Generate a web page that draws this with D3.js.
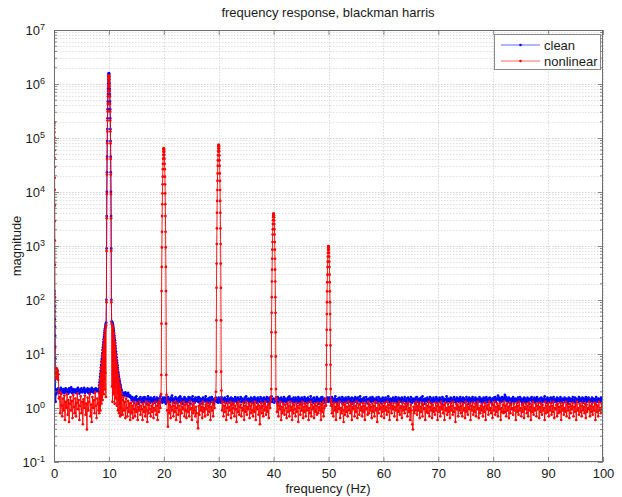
<!DOCTYPE html>
<html><head><meta charset="utf-8">
<script src="https://cdn.jsdelivr.net/npm/d3@7/dist/d3.min.js"></script>
<style>
body{margin:0;background:#fff}
text{font-family:"Liberation Sans",Arial,Helvetica,sans-serif}
</style>
</head><body>
<svg id="chart" width="622" height="497"></svg>
<script>
// ---------------- data ----------------
const titleText = "frequency response, blackman harris";
const xLabelText = "frequency (Hz)";
const yLabelText = "magnitude";
const seriesNames = ["clean", "nonlinear"];
const xTickValues = [0, 10, 20, 30, 40, 50, 60, 70, 80, 90, 100];
const yTickExponents = [-1, 0, 1, 2, 3, 4, 5, 6, 7];

// noise floor: one row per 2 Hz, sampled every 0.125 Hz (null = covered by a peak / detail segment)
const noiseStep = 0.125, noiseRowSpan = 2;
const cleanNoiseRows = [
  [null,null,null,1.8,2.2,1.95,2.3,1.9,2.15,2.05,2.35,1.85,2.2,2.0,2.25,1.9],
  [2.1,2.3,1.95,2.2,2.05,1.85,2.3,2.0,2.15,2.4,1.9,2.1,2.25,1.95,2.2,2.05],
  [1.9,2.25,2.0,2.35,2.1,1.85,2.2,2.0,2.3,1.95,2.15,2.05,2.35,1.9,2.2,2.1],
  [2.0,2.3,1.9,2.15,2.25,1.95,2.1,2.35,2.0,2.2,1.9,2.25,2.05,2.3,2.1,2.2],
  [2.05,2.15,null,null,null,null,null,null,null,null,null,null,null,null,null,null],
  [null,null,null,null,null,null,null,null,null,null,null,null,null,null,null,null],
  [null,null,null,1.95,1.75,1.9,1.7,1.85,1.95,1.7,1.8,1.65,1.9,1.75,1.6,1.7],
  [1.55,1.4,1.6,1.35,1.5,1.25,1.55,1.4,1.65,1.3,1.45,1.2,1.5,1.35,1.6,1.3],
  [1.45,1.25,1.55,1.35,1.6,1.3,1.5,1.2,1.45,1.65,1.3,1.5,1.25,1.55,1.4,1.3],
  [1.5,1.35,1.6,1.25,1.45,1.3,1.55,1.4,1.2,1.5,1.35,1.65,1.3,1.45,1.25,1.55],
  [1.4,1.3,1.55,1.2,1.5,1.35,1.6,1.25,1.45,1.3,1.55,1.4,1.7,1.35,1.5,1.25],
  [1.45,1.6,1.3,1.5,1.25,1.4,1.55,1.3,1.65,1.35,1.5,1.2,1.45,1.35,1.6,1.3],
  [1.5,1.25,1.45,1.35,1.6,1.3,1.55,1.2,1.5,1.4,1.65,1.3,1.45,1.25,1.55,1.35],
  [1.4,1.55,1.3,1.6,1.25,1.5,1.35,1.45,1.2,1.55,1.3,1.5,1.4,1.65,1.3,1.45],
  [1.35,1.5,1.25,1.55,1.4,1.3,1.6,1.35,1.45,1.2,1.5,1.35,1.55,1.3,1.45,1.25],
  [1.55,1.3,1.45,1.25,1.6,1.35,1.5,1.4,1.3,1.55,1.25,1.45,1.35,1.65,1.3,1.5],
  [1.4,1.25,1.55,1.35,1.5,1.2,1.45,1.3,1.6,1.35,1.5,1.25,1.55,1.4,1.3,1.45],
  [1.6,1.3,1.5,1.35,1.45,1.25,1.55,1.3,1.65,1.4,1.35,1.5,1.2,1.45,1.3,1.55],
  [1.35,1.5,1.25,1.45,1.6,1.3,1.5,1.4,1.25,1.55,1.35,1.45,1.3,1.6,1.25,1.5],
  [1.4,1.3,1.55,1.2,1.45,1.35,1.6,1.3,1.5,1.25,1.55,1.4,1.35,1.65,1.3,1.45],
  [1.5,1.25,1.45,1.35,1.55,1.3,1.6,1.2,1.5,1.4,1.3,1.55,1.35,1.45,1.25,1.6],
  [1.35,1.5,1.3,1.45,1.2,1.55,1.4,1.65,1.3,1.5,1.35,1.45,1.25,1.55,1.3,1.4],
  [1.55,1.3,1.45,1.25,1.6,1.35,1.5,1.3,1.4,1.55,1.2,1.45,1.35,1.6,1.3,1.5],
  [1.4,1.25,1.55,1.35,1.45,1.3,1.65,1.4,1.3,1.5,1.25,1.55,1.35,1.45,1.3,1.6],
  [1.35,1.5,1.2,1.45,1.35,1.55,1.3,1.6,1.4,1.25,1.5,1.35,1.45,1.3,1.55,1.4],
  [1.3,1.55,1.35,1.45,1.25,1.6,1.4,1.3,1.5,1.35,1.65,1.3,1.45,1.2,1.5,1.35],
  [1.55,1.3,1.45,1.35,1.6,1.25,1.5,1.4,1.3,1.55,1.35,1.45,1.25,1.6,1.3,1.5],
  [1.4,1.3,1.55,1.2,1.5,1.35,1.45,1.6,1.3,1.5,1.25,1.55,1.4,1.35,1.65,1.3],
  [1.45,1.3,1.5,1.25,1.55,1.4,1.35,1.6,1.3,1.45,1.2,1.5,1.35,1.55,1.3,1.45],
  [1.6,1.35,1.5,1.3,1.45,1.25,1.55,1.4,1.3,1.6,1.35,1.5,1.25,1.45,1.35,1.55],
  [1.3,1.45,1.25,1.55,1.35,1.5,1.3,1.65,1.4,1.3,1.5,1.2,1.45,1.35,1.55,1.3],
  [1.5,1.35,1.6,1.3,1.45,1.25,1.55,1.35,1.5,1.4,1.3,1.55,1.25,1.45,1.35,1.6],
  [1.4,1.3,1.5,1.2,1.55,1.35,1.45,1.3,1.6,1.4,1.25,1.5,1.35,1.45,1.3,1.55],
  [1.35,1.6,1.3,1.45,1.25,1.5,1.4,1.55,1.3,1.65,1.35,1.45,1.2,1.5,1.35,1.4],
  [1.55,1.3,1.45,1.35,1.6,1.25,1.5,1.4,1.3,1.55,1.35,1.45,1.3,1.6,1.25,1.5],
  [1.4,1.35,1.55,1.3,1.45,1.2,1.6,1.35,1.5,1.3,1.45,1.4,1.65,1.3,1.5,1.35],
  [1.45,1.3,1.55,1.25,1.5,1.4,1.35,1.6,1.3,1.45,1.25,1.55,1.35,1.5,1.3,1.45],
  [1.6,1.35,1.45,1.3,1.55,1.25,1.5,1.4,1.3,1.6,1.35,1.45,1.2,1.55,1.4,1.3],
  [1.5,1.35,1.6,1.3,1.45,1.4,1.55,1.25,1.5,1.35,1.45,1.3,1.6,1.35,1.5,1.25],
  [1.45,1.3,1.55,1.35,1.5,1.25,1.6,1.4,1.3,1.5,1.35,1.55,1.3,1.45,1.25,1.5],
  [1.4,1.55,1.35,1.6,1.3,1.5,1.45,1.7,1.4,1.55,1.35,1.5,1.3,1.6,1.35,1.45],
  [1.55,1.75,1.4,1.6,1.35,1.5,1.3,1.55,1.4,1.45,1.25,1.5,1.35,1.6,1.3,1.45],
  [1.5,1.35,1.45,1.25,1.55,1.4,1.3,1.6,1.35,1.5,1.25,1.45,1.35,1.55,1.3,1.5],
  [1.4,1.3,1.55,1.35,1.45,1.2,1.5,1.4,1.6,1.3,1.45,1.35,1.55,1.25,1.5,1.35],
  [1.6,1.3,1.45,1.35,1.5,1.25,1.55,1.4,1.3,1.5,1.35,1.65,1.3,1.45,1.25,1.55],
  [1.35,1.5,1.3,1.45,1.55,1.25,1.5,1.35,1.6,1.3,1.45,1.4,1.3,1.55,1.35,1.5],
  [1.45,1.3,1.6,1.35,1.5,1.25,1.45,1.4,1.55,1.3,1.5,1.35,1.45,1.2,1.55,1.35],
  [1.5,1.35,1.45,1.3,1.6,1.4,1.3,1.55,1.25,1.5,1.35,1.45,1.3,1.6,1.35,1.5],
  [1.4,1.3,1.55,1.25,1.5,1.35,1.45,1.6,1.3,1.5,1.35,1.55,1.4,1.3,1.45,1.35],
  [1.55,1.3,1.5,1.35,1.45,1.25,1.6,1.4,1.3,1.5,1.35,1.45,1.3,1.55,1.35,1.5],
  [1.4]
];
const nonlinearNoiseRows = [
  [null,null,null,null,null,null,null,null,1.6,0.8,1.9,1.1,0.7,1.5,0.9,1.7],
  [0.6,1.3,1.0,1.8,0.75,1.4,0.55,1.2,1.6,0.9,1.35,0.65,1.75,1.05,0.8,1.5],
  [0.7,1.25,1.85,0.95,1.4,0.6,1.1,1.65,0.8,1.3,0.5,1.45,1.0,1.7,0.75,1.2],
  [0.4,1.55,0.9,1.3,1.8,0.7,1.15,0.55,1.6,1.0,1.4,0.8,1.95,1.1,0.65,1.5],
  [1.2,0.9,null,null,null,null,null,null,null,null,null,null,null,null,null,null],
  [null,null,null,null,null,null,null,null,null,null,null,null,null,null,null,null],
  [null,null,null,1.4,0.75,1.6,0.9,1.3,0.65,1.5,1.0,0.7,1.35,0.85,1.2,0.6],
  [1.25,0.8,1.1,0.65,1.3,0.95,0.7,1.15,0.85,1.25,0.6,1.05,0.9,1.3,0.75,1.1],
  [0.95,0.6,1.2,0.85,1.05,0.7,1.3,0.9,0.55,1.15,0.8,1.25,0.95,0.7,1.1,0.85],
  [1.2,0.65,1.0,0.9,1.3,0.75,1.1,0.6,1.25,0.85,1.4,1.0,1.8,null,null,null],
  [null,null,null,null,1.75,0.9,0.45,1.3,0.8,1.15,0.65,1.05,0.9,1.25,0.7,1.1],
  [0.85,1.3,0.6,1.0,1.2,0.75,1.1,0.9,0.55,1.25,0.8,1.05,0.95,1.3,0.7,1.15],
  [0.9,0.65,1.2,0.85,1.1,0.7,1.3,0.95,1.0,0.6,1.15,0.8,1.25,0.9,0.7,1.05],
  [0.8,0.55,0.42,1.1,0.75,1.2,0.9,1.05,0.65,1.3,0.85,1.0,0.7,1.15,0.95,1.25],
  [0.75,1.1,0.85,1.2,0.6,1.05,0.9,1.3,0.7,1.15,1.0,1.5,2.0,null,null,null],
  [null,null,null,null,2.1,0.9,1.3,0.7,1.1,0.85,1.25,0.6,1.0,1.2,0.75,1.05],
  [0.9,1.3,0.65,1.15,0.8,1.0,1.25,0.7,1.1,0.95,0.55,1.2,0.85,1.3,0.75,1.05],
  [1.15,0.7,1.0,0.9,1.25,0.6,1.1,0.85,1.3,0.75,1.05,0.95,1.2,0.65,1.1,0.8],
  [1.25,0.9,0.7,1.15,0.85,1.3,0.6,1.05,0.95,1.2,0.75,1.1,0.5,1.0,1.25,0.8],
  [1.1,0.7,1.2,0.9,1.3,0.75,1.05,0.85,1.15,0.65,1.25,1.0,1.6,null,null,null],
  [null,null,null,null,1.55,0.85,1.2,0.7,1.1,0.95,1.3,0.6,1.05,0.8,1.2,0.9],
  [0.75,1.15,1.0,0.65,1.25,0.85,1.1,0.7,1.3,0.9,1.05,0.6,1.2,0.8,1.15,0.95],
  [0.7,1.25,0.85,1.1,0.55,1.0,1.2,0.75,1.15,0.9,1.3,0.65,1.05,0.85,1.2,0.7],
  [1.1,0.9,1.25,0.6,1.0,0.8,1.3,0.7,1.15,0.95,1.05,0.65,1.2,0.85,1.1,0.75],
  [1.25,0.8,1.05,0.9,1.2,0.6,1.15,0.85,1.3,0.7,1.0,1.1,1.45,null,null,null],
  [null,null,null,null,1.4,0.8,1.15,0.7,1.25,0.9,1.05,0.6,1.2,0.85,1.1,0.95],
  [1.3,0.65,1.0,0.8,1.2,0.9,0.55,1.15,0.75,1.25,0.85,1.05,0.7,1.3,0.9,1.1],
  [0.8,1.2,0.6,1.05,0.95,1.25,0.7,1.1,0.85,1.3,0.65,1.0,1.15,0.75,1.2,0.9],
  [1.05,0.7,1.25,0.85,1.1,0.6,1.2,0.95,1.0,0.75,1.3,0.8,1.15,0.9,1.05,0.65],
  [1.2,0.85,1.1,0.7,1.3,0.9,1.0,0.55,1.25,0.8,1.15,0.95,1.05,0.7,1.2,0.85],
  [1.1,0.65,1.25,0.9,1.05,0.75,1.3,0.85,1.15,0.6,1.0,1.2,0.8,1.1,0.95,1.25],
  [0.7,1.05,0.9,1.2,0.6,1.15,0.85,1.3,0.75,1.0,1.1,0.65,1.25,0.9,1.05,0.8],
  [1.2,0.95,1.1,0.7,1.25,0.85,1.0,0.6,1.15,0.9,0.5,0.4,1.05,0.8,1.2,0.9],
  [1.3,0.75,1.1,0.9,1.2,0.65,1.05,0.85,1.25,0.7,1.15,0.95,1.0,0.6,1.2,0.85],
  [1.1,0.8,1.3,0.7,1.05,0.9,1.2,0.65,1.15,0.85,1.0,0.75,1.25,0.9,1.1,0.6],
  [1.2,0.85,1.05,0.7,1.3,0.95,1.1,0.8,1.15,0.6,1.25,0.9,1.0,0.75,1.2,0.85],
  [1.05,0.65,1.25,0.9,1.1,0.75,1.3,0.85,1.0,0.55,1.2,0.95,1.15,0.7,1.05,0.9],
  [1.25,0.8,1.1,0.7,1.2,0.9,1.0,0.65,1.3,0.85,1.15,0.75,1.05,0.95,1.2,0.6],
  [1.1,0.9,1.25,0.75,1.05,0.85,1.2,0.7,1.15,0.95,1.3,0.65,1.0,0.8,1.1,0.9],
  [1.2,0.7,1.05,0.85,1.25,0.6,1.1,0.95,1.15,0.75,1.3,0.9,1.0,0.8,1.2,0.65],
  [1.15,0.9,1.3,0.75,1.05,0.85,1.2,0.7,1.1,0.95,1.25,0.6,1.0,0.85,1.15,0.8],
  [1.3,0.85,1.1,0.7,1.2,0.9,1.05,0.65,1.25,0.8,1.15,0.95,1.0,0.75,1.2,0.9],
  [1.05,0.6,1.25,0.85,1.1,0.75,1.3,0.9,1.0,0.7,1.15,0.85,1.2,0.65,1.05,0.95],
  [1.2,0.8,1.1,0.7,1.25,0.9,1.05,0.6,1.15,0.85,1.3,0.75,1.0,0.9,1.2,0.7],
  [1.1,0.95,1.25,0.65,1.05,0.85,1.2,0.75,1.15,0.9,1.0,0.6,1.3,0.8,1.1,0.85],
  [1.2,0.7,1.05,0.9,1.25,0.75,1.1,0.85,1.3,0.65,1.0,0.95,1.15,0.7,1.2,0.8],
  [1.05,0.85,1.25,0.6,1.1,0.9,1.2,0.75,1.0,0.85,1.3,0.7,1.15,0.9,1.05,0.65],
  [1.2,0.8,1.1,0.95,1.25,0.7,1.05,0.85,1.15,0.6,1.3,0.9,1.0,0.75,1.2,0.85],
  [1.1,0.7,1.25,0.9,1.05,0.8,1.2,0.65,1.15,0.85,1.0,0.95,1.3,0.7,1.1,0.85],
  [1.2,0.75,1.05,0.9,1.25,0.6,1.15,0.85,1.1,0.7,1.3,0.9,1.0,0.8,1.2,0.95],
  [1.05]
];

// DC components (start frequency, step, magnitudes)
const cleanDcStart = 0, cleanDcStep = 0.02;
const cleanDc = [150,147,140,128,112,96,77,61,44,32,21.8,13.7,8.25,4.2,2.2,1.3];
const nonlinearDcStart = 0, nonlinearDcStep = 0.01;
const nonlinearDc = [200000,196000,187000,171000,150000,128000,103000,81400,59000,42800,29000,18200,11000,5640,2900,1260,448,112,12.6];
const nonlinearLowStart = 0.2, nonlinearLowStep = 0.05;
const nonlinearLow = [5.2,3.6,5.5,3.9,5.0,3.5,5.4,4.0,5.1,3.7,4.8,3.3,4.2,2.0,1.5];

// spectral spreading around the 10 Hz tone (0.05 Hz spacing)
const humpStep = 0.05, humpLeftStart = 8.2, humpRightStart = 10.5;
const cleanHumpLeft = [2.3,2.6,3.0,3.3,3.8,4.3,4.9,5.6,6.3,7.2,8.1,9.2,10.4,11.8,13.2,14.9,16.6,18.6,20.6,22.8,25.2,27.6,30.0,32.4,34.6,36.6,38.2];
const cleanHumpRight = [40,39.5,38.5,37,35.5,33.5,31.5,29.5,27,24.5,22,20,18,16,14.2,12.6,11.1,9.8,8.7,7.7,6.9,6.2,5.6,5.1,4.6,4.2,3.85,3.55,3.3,3.1,2.9,2.75,2.6,2.45,2.3,2.2,2.1];
const nonlinearHumpLeft = [1.9,0.8,2.7,1.1,3.4,0.9,4.4,1.5,5.7,1.2,7.3,2.0,9.4,1.4,11.9,2.6,15,1.8,18.5,3.5,22.7,2.2,27,4.5,31,1.6,34];
const nonlinearHumpRight = [36,2.5,34.5,1.3,32,4.2,28.5,1.8,24.5,3.0,20,1.2,16.2,2.4,12.8,1.5,10,3.1,7.8,1.1,6.2,1.9,5.0,0.9,4.1,1.4,3.5,0.8,2.9,1.2,2.6,0.7,2.3,1.0,2.0,0.75,1.8];

// tone peaks: magnitude from the centre outward, every 0.025 Hz (mirrored on both sides)
const peakStep = 0.025;
const cleanPeakCenters = [10];
const cleanPeak10 = [1600000,1571000,1493000,1368000,1200000,1021000,821000,651000,472000,342000,232000,146000,88000,45100,23200,10100,3580,900,101];
const nonlinearPeakCenters = [10, 20, 30, 40, 50];
const nonlinearPeak10 = [1450000,1424000,1353000,1240000,1088000,925000,744000,590000,428000,310000,210000,132000,79800,40900,21000,9140,3250,812,91];
const nonlinearPeak20 = [65000,63800,60600,55600,48800,41500,33300,26500,19200,13900,9430,5930,3580,1830,943,410,146,36.4,4.1];
const nonlinearPeak30 = [75000,73700,70000,64100,56300,47900,38500,30500,22100,16100,10900,6840,4130,2120,1090,473,168,42,4.7];
const nonlinearPeak40 = [4000,3930,3730,3420,3000,2550,2050,1630,1180,856,580,365,220,113,58,25.2,9.0,2.24,1.4];
const nonlinearPeak50 = [1000,982,933,855,750,638,513,407,295,214,145,91,55,28,14.5,6.3,2.24,1.3,1.1];

// ---------------- build series ----------------
function segment(start, step, values) {
  return values.map((v, i) => ({f: +(start + i * step).toFixed(4), v}));
}
function peak(center, side) {
  const pts = [];
  for (let k = side.length - 1; k >= 1; k--) pts.push({f: center - k * peakStep, v: side[k]});
  pts.push({f: center, v: side[0]});
  for (let k = 1; k < side.length; k++) pts.push({f: center + k * peakStep, v: side[k]});
  return pts;
}
function noisePoints(rows) {
  const pts = [];
  rows.forEach((row, r) => row.forEach((v, j) => {
    if (v !== null) pts.push({f: r * noiseRowSpan + j * noiseStep, v});
  }));
  return pts;
}
const cleanData = [].concat(
  noisePoints(cleanNoiseRows),
  segment(cleanDcStart, cleanDcStep, cleanDc),
  segment(humpLeftStart, humpStep, cleanHumpLeft),
  segment(humpRightStart, humpStep, cleanHumpRight),
  peak(cleanPeakCenters[0], cleanPeak10)
).sort((a, b) => a.f - b.f);
const nlPeaks = [nonlinearPeak10, nonlinearPeak20, nonlinearPeak30, nonlinearPeak40, nonlinearPeak50];
const nonlinearData = [].concat(
  noisePoints(nonlinearNoiseRows),
  segment(nonlinearDcStart, nonlinearDcStep, nonlinearDc),
  segment(nonlinearLowStart, nonlinearLowStep, nonlinearLow),
  segment(humpLeftStart, humpStep, nonlinearHumpLeft),
  segment(humpRightStart, humpStep, nonlinearHumpRight),
  ...nonlinearPeakCenters.map((c, i) => peak(c, nlPeaks[i]))
).sort((a, b) => a.f - b.f);

// ---------------- draw ----------------
const W = 622, H = 497;
const pLeft = 54, pRight = 603, pTop = 30, pBottom = 462;
const svg = d3.select("#chart");
const x = d3.scaleLinear().domain([0, 100]).range([pLeft, pRight]);
const y = d3.scaleLog().domain([0.1, 1e7]).range([pBottom, pTop]);
const fontSize = "13px";

svg.append("rect").attr("width", W).attr("height", H).attr("fill", "#fff");

// grid
const grid = svg.append("g");
const minorVals = [];
for (let e = -1; e < 7; e++) for (let m = 2; m <= 9; m++) minorVals.push(m * Math.pow(10, e));
const majorVals = yTickExponents.map(e => Math.pow(10, e));
grid.selectAll(".gminor").data(minorVals).join("line")
  .attr("x1", pLeft).attr("x2", pRight)
  .attr("y1", d => Math.round(y(d)) + 0.5).attr("y2", d => Math.round(y(d)) + 0.5)
  .attr("stroke", "#d4d4d4").attr("stroke-width", 0.7).attr("stroke-dasharray", "1.5,1.5");
grid.selectAll(".gmajor").data(majorVals).join("line")
  .attr("x1", pLeft).attr("x2", pRight)
  .attr("y1", d => Math.round(y(d)) + 0.5).attr("y2", d => Math.round(y(d)) + 0.5)
  .attr("stroke", "#c8c8c8").attr("stroke-width", 0.8).attr("stroke-dasharray", "1.5,1.5");
grid.selectAll(".gx").data(xTickValues).join("line")
  .attr("x1", d => Math.round(x(d)) + 0.5).attr("x2", d => Math.round(x(d)) + 0.5)
  .attr("y1", pTop).attr("y2", pBottom)
  .attr("stroke", "#cfcfcf").attr("stroke-width", 0.8).attr("stroke-dasharray", "1.5,1.5");

// data
svg.append("clipPath").attr("id", "clip").append("rect")
  .attr("x", pLeft).attr("y", pTop).attr("width", pRight - pLeft).attr("height", pBottom - pTop);
const plot = svg.append("g").attr("clip-path", "url(#clip)");
const line = d3.line().x(d => x(d.f)).y(d => y(d.v));
const series = [
  {name: seriesNames[0], data: cleanData, color: "#0000ff"},
  {name: seriesNames[1], data: nonlinearData, color: "#ff0000"}
];
series.forEach(s => {
  plot.append("path").datum(s.data).attr("d", line)
    .attr("fill", "none").attr("stroke", s.color).attr("stroke-width", 0.9);
  plot.append("g").selectAll("circle").data(s.data).join("circle")
    .attr("cx", d => x(d.f)).attr("cy", d => y(d.v)).attr("r", 1.35).attr("fill", s.color);
});

// axes
const axisColor = "#6e6e6e";
const textColor = "#1a1a1a";
const gx = svg.append("g").attr("transform", `translate(0,${pBottom})`)
  .call(d3.axisBottom(x).tickValues(xTickValues).tickSizeInner(-5).tickSizeOuter(0).tickPadding(7).tickFormat(d3.format("d")));
const gxt = svg.append("g").attr("transform", `translate(0,${pTop})`)
  .call(d3.axisTop(x).tickValues(xTickValues).tickSizeInner(-5).tickSizeOuter(0).tickFormat(""));
const gy = svg.append("g").attr("transform", `translate(${pLeft},0)`)
  .call(d3.axisLeft(y).tickValues(majorVals).tickSizeInner(-5).tickSizeOuter(0).tickPadding(9).tickFormat(() => ""));
const gyr = svg.append("g").attr("transform", `translate(${pRight},0)`)
  .call(d3.axisRight(y).tickValues(majorVals).tickSizeInner(-5).tickSizeOuter(0).tickFormat(""));
[gx, gxt, gy, gyr].forEach(g => {
  g.select(".domain").remove();
  g.selectAll(".tick line").attr("stroke", axisColor).attr("stroke-width", 0.8);
  g.selectAll("text").attr("fill", textColor).attr("font-size", fontSize)
    .attr("font-family", '"Liberation Sans",Arial,Helvetica,sans-serif');
});
gy.selectAll(".tick text").each(function(d) {
  const t = d3.select(this);
  t.append("tspan").text("10");
  t.append("tspan").attr("dy", "-0.55em").attr("font-size", "9px").text(Math.round(Math.log10(d)));
});
// minor ticks left/right
const mt = svg.append("g").attr("stroke", axisColor).attr("stroke-width", 0.8);
mt.selectAll(".ml").data(minorVals).join("line")
  .attr("x1", pLeft).attr("x2", pLeft + 3).attr("y1", d => y(d)).attr("y2", d => y(d));
mt.selectAll(".mr").data(minorVals).join("line")
  .attr("x1", pRight).attr("x2", pRight - 3).attr("y1", d => y(d)).attr("y2", d => y(d));
// box
svg.append("rect").attr("x", pLeft + 0.5).attr("y", pTop + 0.5)
  .attr("width", pRight - pLeft - 1).attr("height", pBottom - pTop - 1)
  .attr("fill", "none").attr("stroke", axisColor).attr("stroke-width", 1);

// labels
svg.append("text").attr("x", 328).attr("y", 17).attr("text-anchor", "middle")
  .attr("font-size", fontSize).attr("fill", textColor).text(titleText);
svg.append("text").attr("x", 328).attr("y", 493).attr("text-anchor", "middle")
  .attr("font-size", fontSize).attr("fill", textColor).text(xLabelText);
svg.append("text").attr("transform", "translate(21,246) rotate(-90)").attr("text-anchor", "middle")
  .attr("font-size", fontSize).attr("fill", textColor).text(yLabelText);

// legend
const lg = svg.append("g");
lg.append("rect").attr("x", 494.5).attr("y", 34.5).attr("width", 106).attr("height", 35)
  .attr("fill", "#fff").attr("stroke", "#8a8a8a").attr("stroke-width", 1);
series.forEach((s, i) => {
  const yy = 45 + i * 16;
  lg.append("line").attr("x1", 501).attr("x2", 540).attr("y1", yy).attr("y2", yy)
    .attr("stroke", s.color).attr("stroke-width", 0.6);
  lg.append("circle").attr("cx", 520.5).attr("cy", yy).attr("r", 1.25).attr("fill", s.color);
  lg.append("text").attr("x", 544).attr("y", yy + 4.5).attr("font-size", fontSize)
    .attr("fill", textColor).text(s.name);
});
</script>
</body></html>
